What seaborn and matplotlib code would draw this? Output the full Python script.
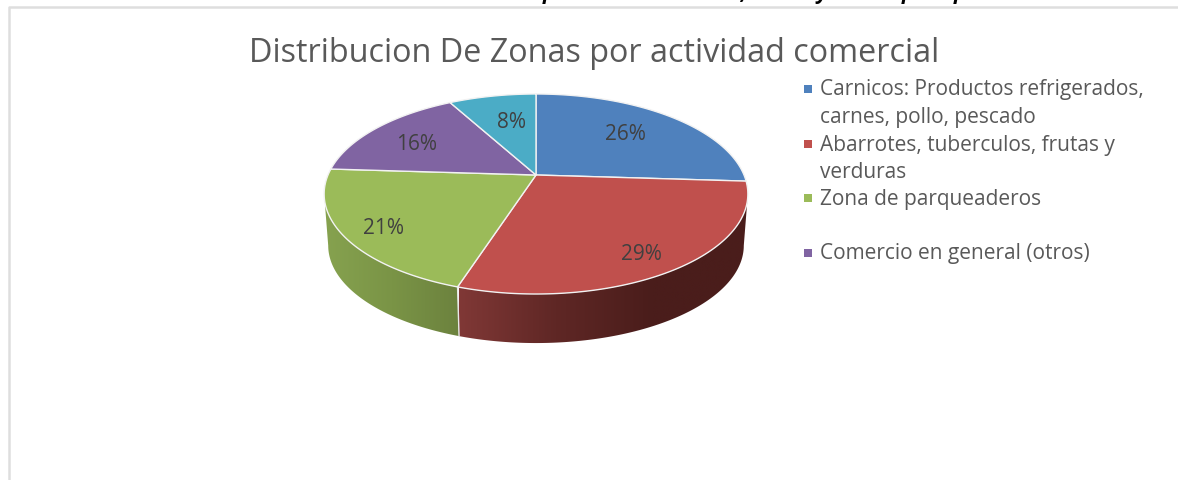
import numpy as np
import matplotlib
matplotlib.use("Agg")
import matplotlib.pyplot as plt
import seaborn as sns
from matplotlib.colors import LinearSegmentedColormap
from matplotlib.patches import Polygon

# Data
categories = [
    "Carnicos: Productos refrigerados,\ncarnes, pollo, pescado",
    "Abarrotes, tuberculos, frutas y\nverduras",
    "Zona de parqueaderos",
    "Comercio en general (otros)",
    "",
]
values = [26, 29, 21, 16, 8]
pct_labels = ["26%", "29%", "21%", "16%", "8%"]
title = "Distribucion De Zonas por actividad comercial"
# only the descenders of the heading above the chart are left in the crop
cut_heading = ["p", ",", "y", "p", "p"]

# Style
sns.set_theme(style="white")
plt.rcParams["font.family"] = ["Open Sans", "DejaVu Sans"]
colors = sns.color_palette(["#4f81bd", "#c0504d", "#9bbb59", "#8064a2", "#4bacc6"])
text_color = "#595959"

# pixel canvas
fig = plt.figure(figsize=(11.78, 4.8), dpi=100)
ax = fig.add_axes([0, 0, 1, 1])
ax.axis("off")

# frame of the chart box
ax.plot([8.5, 8.5, 1178], [480, 7, 7], color="#dedede", lw=1.8)

# heading cut off by the top edge
for x, txt in zip([549, 743, 822, 908, 960], cut_heading):
    ax.text(x, -0.5, txt, ha="center", va="baseline", fontsize=15,
            fontweight="bold", fontstyle="italic", color="black")

# 3D look: tilted circle seen in perspective
CX, CY = 536, 175
K = 0.19


def rim(angle_deg, r, a, top):
    t = np.radians(angle_deg)
    u, v = np.sin(t), np.cos(t)
    w = 1 + K * v
    return CX + r * u / w, top - a * v / w


def top_rim(angle_deg):
    return rim(angle_deg, 208, 96.4, CY)


def low_rim(angle_deg):
    return rim(angle_deg, 204, 94, 227)


edges = np.cumsum([0] + values) / sum(values) * 360

# side walls: only the part between the two tangent points can be seen
walls = [
    (1, max(edges[1], 101), edges[2], 459, 750, ["#803836", "#5f2725", "#4a1d1b", "#4a1d1b"]),
    (2, edges[2], min(edges[3], 259), 325, 459, ["#86a24f", "#7a9446", "#6c823e"]),
]
for i, a0, a1, xmin, xmax, stops in walls:
    angles = np.linspace(a0, a1, 150)
    xt, yt = top_rim(angles)
    xl, yl = low_rim(angles)
    poly = Polygon(
        np.c_[np.r_[xt, xl[::-1]], np.r_[yt, yl[::-1]]],
        closed=True, facecolor="none", edgecolor="none", transform=ax.transData,
    )
    ax.add_patch(poly)
    cmap = LinearSegmentedColormap.from_list("wall", stops)
    grad = np.linspace(0, 1, 256).reshape(1, -1)
    im = ax.imshow(grad, cmap=cmap, extent=[xmin, xmax, 350, 170], aspect="auto", zorder=2)
    im.set_clip_path(poly)

ax.set_xlim(0, 1178)
ax.set_ylim(480, 0)

# white seam between the two walls
sx0, sy0 = top_rim(edges[2])
sx1, sy1 = low_rim(edges[2])
ax.plot([sx0, sx1], [sy0, sy1], color="#e8e8e8", lw=1, zorder=3)

# top face
for i, col in enumerate(colors):
    xs, ys = top_rim(np.linspace(edges[i], edges[i + 1], 120))
    ax.fill(
        np.r_[CX, xs], np.r_[CY, ys],
        facecolor=col, edgecolor="#f2f2f2", lw=1, joinstyle="round", zorder=4,
    )

# percent labels
label_xy = [(625, 134), (641, 254), (383, 228), (417, 144), (511, 123)]
for (x, y), txt in zip(label_xy, pct_labels):
    ax.text(x, y, txt, ha="center", va="center", fontsize=15, color="#404040", zorder=5)

# title
ax.text(594, 54, title, ha="center", va="center", fontsize=23.3, color=text_color)

# legend
row_y = [89, 144, 198, 253]
line_h = 27.5
for i, y in enumerate(row_y):
    ax.scatter([808], [y], marker="s", s=32, color=colors[i], linewidths=0, zorder=5)
    for n, line in enumerate(categories[i].split("\n")):
        ax.text(820, y + 1 + n * line_h, line, ha="left", va="center", fontsize=15, color=text_color)

fig.savefig("out.png", dpi=100)
